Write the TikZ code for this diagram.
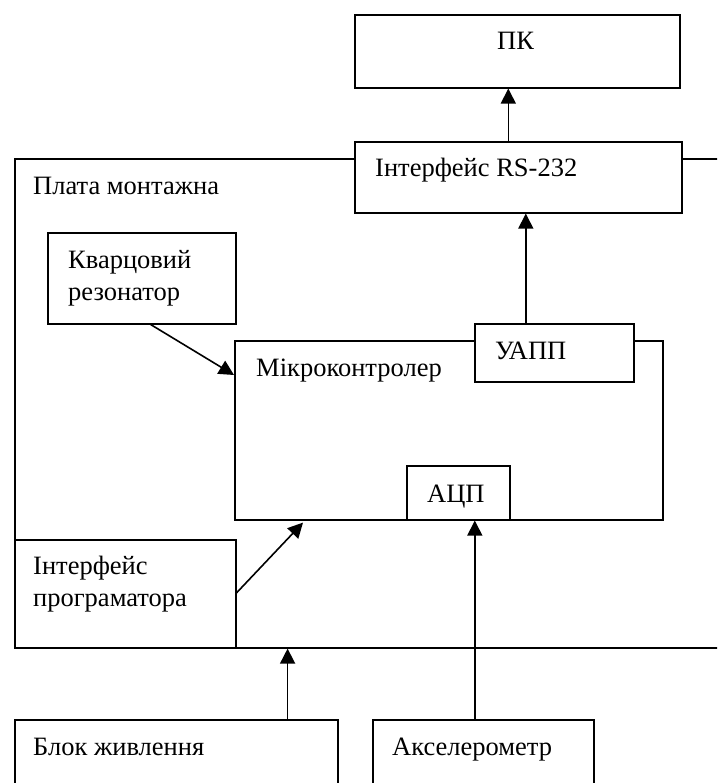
\documentclass[tikz,border=0pt]{standalone}
\usepackage{fontspec}
\setmainfont{Liberation Serif}
\usetikzlibrary{positioning,arrows.meta}
\tikzset{
  blk/.style={draw, fill=white, line width=1.6pt, inner sep=0pt, anchor=north west},
  lbl/.style={anchor=base west, inner sep=0pt, align=left, font=\fontsize{26.5}{32}\selectfont},
  arr/.style={line width=1.6pt, -{Triangle[length=15pt,width=15pt]}}
}
\begin{document}
\begin{tikzpicture}[x=1pt,y=-1pt]
\useasboundingbox (0,0) rectangle (717,783);
\clip (0,0) rectangle (717,783);
% board
\node[blk, minimum width=760pt, minimum height=489pt] (board) at (14,158) {};
% top
\node[blk, minimum width=325pt, minimum height=73pt] (pc) at (354,14) {};
\node[blk, minimum width=327pt, minimum height=71pt] (rs) at (354,141) {};
% on the board
\node[blk, minimum width=188pt, minimum height=91pt] (quartz) at (47,232) {};
\node[blk, minimum width=428pt, minimum height=179pt] (mcu) at (234,340) {};
\node[blk, minimum width=159pt, minimum height=58pt] (uart) at (474,323) {};
\node[blk, minimum width=103pt, minimum height=54pt] (adc) at (406,465) {};
\node[blk, minimum width=221pt, minimum height=108pt] (prog) at (14,539) {};
% bottom
\node[blk, minimum width=323pt, minimum height=100pt] (psu) at (14,719) {};
\node[blk, minimum width=221pt, minimum height=100pt] (accel) at (372,719) {};
% Labels
\node[lbl] (pc-t) at (497,50) {ПК};
\node[lbl] (rs-t) at (375,177) {Інтерфейс RS-232};
\node[lbl] (board-t) at (33,195) {Плата монтажна};
\node[lbl] (quartz-t) at (68,300) {Кварцовий\\резонатор};
\node[lbl] (mcu-t) at (256,376) {Мікроконтролер};
\node[lbl] (uart-t) at (495,359) {УАПП};
\node[lbl] (adc-t) at (427,502) {АЦП};
\node[lbl] (prog-t) at (33,606) {Інтерфейс\\програматора};
\node[lbl] (psu-t) at (33,755) {Блок живлення};
\node[lbl] (accel-t) at (392,755) {Акселерометр};
% Arrows
\draw[arr] ([xshift=-10pt]rs.north) -- ([xshift=-10pt]rs.north |- pc.south);
\draw[arr] ([xshift=-28.5pt]uart.north) -- ([xshift=-28.5pt]uart.north |- rs.south);
\draw[arr] ([xshift=9pt]quartz.south) -- ([yshift=-35pt]mcu.north west);
\draw[arr] ([yshift=1pt]prog.east) -- ([xshift=69pt,yshift=-2pt]mcu.south west);
\draw[arr] ([xshift=-51pt]psu.north east) -- ([xshift=-51pt]psu.north east |- board.south);
\draw[arr] ([xshift=16.5pt]adc.south |- accel.north) -- ([xshift=16.5pt]adc.south);
\end{tikzpicture}
\end{document}
